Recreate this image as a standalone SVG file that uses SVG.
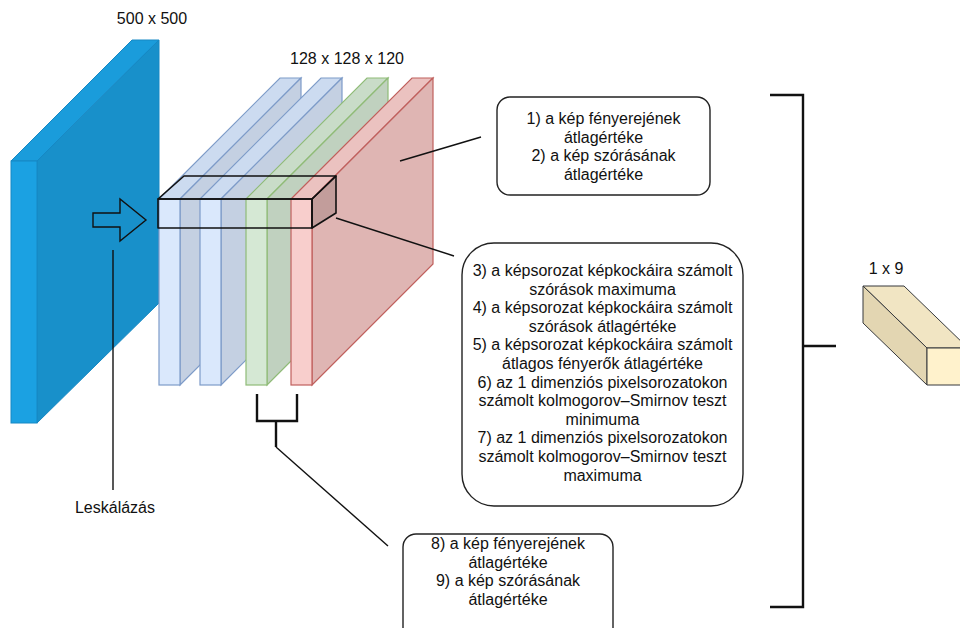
<svg xmlns="http://www.w3.org/2000/svg" width="960" height="628" viewBox="0 0 960 628">
<style>
text{font-family:"Liberation Sans",Arial,sans-serif;font-size:16px;fill:#111;text-anchor:middle}
.ln{stroke:#111;stroke-width:1.4;fill:none}
.br{stroke:#111;stroke-width:2.4;fill:none}
.box{fill:#fff;stroke:#222;stroke-width:1.4}
.b1{stroke:#1688c4;stroke-width:1}
.lb{stroke:#7d9bc8;stroke-width:1.2}
.lg{stroke:#8fbb77;stroke-width:1.2}
.lr{stroke:#c0605d;stroke-width:1.2}
</style>
<rect width="960" height="628" fill="#fff"/>
<g id="input">
<polygon class="b1" points="11,161 132,40 159,40 37,161" fill="#1a9cdb"/>
<polygon class="b1" points="37,161 159,40 159,303 37,423" fill="#1890ca"/>
<rect class="b1" x="11" y="161" width="26" height="262" fill="#1ba1e2"/>
<polygon points="93,213 120,213 120,199 146,220 120,241 120,227 93,227" fill="none" stroke="#111" stroke-width="1.4"/>
<text x="152" y="24">500 x 500</text>
</g>
<g id="layer1">
<polygon class="lb" points="159,199 280,78 301,78 180,199" fill="#ccdbf0"/>
<polygon class="lb" points="180,199 301,78 301,264 180,385" fill="#c4d0e2"/>
<rect class="lb" x="159" y="199" width="21" height="186" fill="#dae8fc"/>
</g>
<g id="layer2">
<polygon class="lb" points="200,199 321,78 342,78 221,199" fill="#ccdbf0"/>
<polygon class="lb" points="221,199 342,78 342,264 221,385" fill="#c4d0e2"/>
<rect class="lb" x="200" y="199" width="21" height="186" fill="#dae8fc"/>
</g>
<g id="layer3">
<polygon class="lg" points="246,199 367,78 388,78 267,199" fill="#c9dcc8"/>
<polygon class="lg" points="267,199 388,78 388,264 267,385" fill="#c0d1bf"/>
<rect class="lg" x="246" y="199" width="21" height="186" fill="#d5e8d4"/>
</g>
<g id="layer4">
<polygon class="lr" points="291,199 412,78 433,78 312,199" fill="#ebc2c0"/>
<polygon class="lr" points="312,199 433,78 433,264 312,385" fill="#dfb5b3"/>
<rect class="lr" x="291" y="199" width="21" height="186" fill="#f8cecc"/>
</g>
<g id="layers-label"><text x="347" y="64">128 x 128 x 120</text></g>
<g id="slice" stroke="#111" stroke-width="1.6" stroke-linejoin="round">
<polygon points="158,199 184,176 336,176 312,199" fill="none"/>
<polygon points="312,199 336,176 336,213 312,228" fill="rgba(0,0,0,0.13)"/>
<rect x="158" y="199" width="154" height="29" fill="none"/>
</g>
<g id="connectors">
<line class="ln" x1="113" y1="250" x2="113" y2="490"/>
<line class="ln" x1="400" y1="161" x2="481" y2="137"/>
<line class="ln" x1="336" y1="218" x2="454" y2="256"/>
<polyline class="br" points="257,394 257,421 297,421 297,394"/>
<line class="br" x1="276" y1="421" x2="276" y2="447"/>
<line class="ln" x1="276" y1="447" x2="388" y2="546"/>
<polyline class="br" points="770,95 803,95 803,607 770,607"/>
<line class="br" x1="803" y1="346" x2="836" y2="346"/>
</g>
<g id="label-leskalazas"><text x="115" y="513">Leskálázás</text></g>
<g id="box1">
<rect class="box" x="497" y="97" width="213" height="98" rx="13"/>
<text x="603.5" y="124">1) a kép fényerejének</text>
<text x="603.5" y="142.5">átlagértéke</text>
<text x="603.5" y="161">2) a kép szórásának</text>
<text x="603.5" y="179.5">átlagértéke</text>
</g>
<g id="box2">
<rect class="box" x="462" y="243" width="281" height="263" rx="32"/>
<text x="602.5" y="276">3) a képsorozat képkockáira számolt</text>
<text x="602.5" y="294.6">szórások maximuma</text>
<text x="602.5" y="313.2">4) a képsorozat képkockáira számolt</text>
<text x="602.5" y="331.8">szórások átlagértéke</text>
<text x="602.5" y="350.4">5) a képsorozat képkockáira számolt</text>
<text x="602.5" y="369">átlagos fényerők átlagértéke</text>
<text x="602.5" y="387.6">6) az 1 dimenziós pixelsorozatokon</text>
<text x="602.5" y="406.2">számolt kolmogorov–Smirnov teszt</text>
<text x="602.5" y="424.8">minimuma</text>
<text x="602.5" y="443.4">7) az 1 dimenziós pixelsorozatokon</text>
<text x="602.5" y="462">számolt kolmogorov–Smirnov teszt</text>
<text x="602.5" y="480.6">maximuma</text>
</g>
<g id="box3">
<rect class="box" x="403" y="534" width="210" height="110" rx="13"/>
<text x="508" y="549">8) a kép fényerejének</text>
<text x="508" y="567.5">átlagértéke</text>
<text x="508" y="586">9) a kép szórásának</text>
<text x="508" y="604.5">átlagértéke</text>
</g>
<g id="output" stroke="#36393d" stroke-width="1" stroke-linejoin="round">
<polygon points="863,286 904,286 968,348 927,348" fill="#f1e5c3"/>
<polygon points="863,286 927,348 927,385 863,323" fill="#e3d6b2"/>
<rect x="927" y="348" width="41" height="37" fill="#fff2cc"/>
</g>
<g id="output-label"><text x="886" y="274">1 x 9</text></g>
</svg>
